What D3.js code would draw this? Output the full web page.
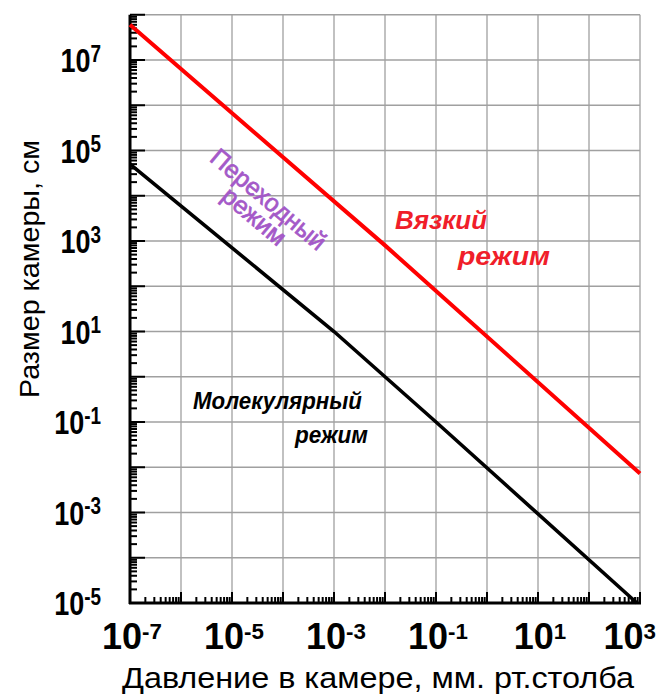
<!DOCTYPE html>
<html>
<head>
<meta charset="utf-8">
<script src="https://cdn.jsdelivr.net/npm/d3@7"></script>
<style>
  html, body { margin: 0; padding: 0; background: #fff; }
  svg { display: block; font-family: "Liberation Sans", Arial, sans-serif; }
</style>
</head>
<body>
<div id="chart"></div>
<script>
// pressure, mm Hg (x) and chamber size, cm (y)
var viscousP = [1e-7, 1e-2, 1e3];
var viscousL = [6e7, 8e2, 7.3e-3];
var molecularP = [1e-7, 1e-3, 1e-1, 8.7e2];
var molecularL = [5e4, 1e1, 1e-1, 1e-5];

var xTickExp = [-7, -5, -3, -1, 1, 3];
var yTickExp = [7, 5, 3, 1, -1, -3, -5];

var xTitle = "Давление в камере, мм. рт.столба";
var yTitle = "Размер камеры, см";

var width = 666, height = 695;
var pL = 130, pR = 640, pT = 14.75, pB = 603;

var svg = d3.select("#chart").append("svg")
  .attr("width", width)
  .attr("height", height);

var x = d3.scaleLog().domain([1e-7, 1e3]).range([pL, pR]);
var y = d3.scaleLog().domain([1e-5, 1e8]).range([pB, pT]);

// decade grid
var xDecades = d3.range(-7, 4).map(function (e) { return Math.pow(10, e); });
var yDecades = d3.range(-5, 9).map(function (e) { return Math.pow(10, e); });

svg.append("g").selectAll("line")
  .data(xDecades.slice(1))
  .enter().append("line")
  .attr("x1", function (d) { return x(d); })
  .attr("x2", function (d) { return x(d); })
  .attr("y1", pT).attr("y2", pB)
  .style("stroke", "#a0a0a0").style("stroke-width", 1.3);

svg.append("g").selectAll("line")
  .data(yDecades.slice(1))
  .enter().append("line")
  .attr("x1", pL).attr("x2", pR)
  .attr("y1", function (d) { return y(d); })
  .attr("y2", function (d) { return y(d); })
  .style("stroke", "#a0a0a0").style("stroke-width", 1.3);

// minor + major ticks, pointing inside
var xMinor = [], yMinor = [];
xDecades.forEach(function (d, i) {
  if (i < xDecades.length - 1) for (var k = 2; k <= 9; k++) xMinor.push(d * k);
});
yDecades.forEach(function (d, i) {
  if (i < yDecades.length - 1) for (var k = 2; k <= 9; k++) yMinor.push(d * k);
});

var ticks = svg.append("g").style("stroke", "#000").style("stroke-width", 2);
ticks.selectAll(".xmin").data(xMinor).enter().append("line")
  .attr("x1", function (d) { return x(d); }).attr("x2", function (d) { return x(d); })
  .attr("y1", pB).attr("y2", pB - 6);
ticks.selectAll(".xmaj").data(xDecades).enter().append("line")
  .attr("x1", function (d) { return x(d); }).attr("x2", function (d) { return x(d); })
  .attr("y1", pB).attr("y2", pB - 11);
ticks.selectAll(".ymin").data(yMinor).enter().append("line")
  .attr("x1", pL).attr("x2", pL + 7)
  .attr("y1", function (d) { return y(d); }).attr("y2", function (d) { return y(d); });
ticks.selectAll(".ymaj").data(yDecades).enter().append("line")
  .attr("x1", pL).attr("x2", pL + 15)
  .attr("y1", function (d) { return y(d); }).attr("y2", function (d) { return y(d); });

// axis lines
svg.append("line").attr("x1", pL).attr("x2", pL).attr("y1", pT).attr("y2", pB + 1)
  .style("stroke", "#000").style("stroke-width", 3);
svg.append("line").attr("x1", pL - 1).attr("x2", pR + 1).attr("y1", pB).attr("y2", pB)
  .style("stroke", "#000").style("stroke-width", 3);

// the two boundary lines
var line = d3.line()
  .x(function (d) { return x(d[0]); })
  .y(function (d) { return y(d[1]); });

svg.append("path")
  .datum(d3.zip(molecularP, molecularL))
  .attr("d", line)
  .style("fill", "none").style("stroke", "#000").style("stroke-width", 3.6);

svg.append("path")
  .datum(d3.zip(viscousP, viscousL))
  .attr("d", line)
  .style("fill", "none").style("stroke", "#ff0000").style("stroke-width", 4);

// tick labels 10^n
function powLabel(sel, e, sup) {
  sel.append("tspan").text("10");
  sel.append("tspan").attr("dy", "-0.45em").style("font-size", sup).text(e);
}

svg.append("g").selectAll("text")
  .data(xTickExp)
  .enter().append("text")
  .attr("x", function (e) { return x(Math.pow(10, e)) + 2; })
  .attr("y", 649)
  .attr("text-anchor", "middle")
  .style("font-size", "36px").style("font-weight", "bold")
  .each(function (e) {
    powLabel(d3.select(this), e, "62%");
    // keep the last label inside the picture
    var b = this.getBBox();
    if (b.x + b.width > width - 10) {
      d3.select(this).attr("x", +d3.select(this).attr("x") - (b.x + b.width - (width - 10)));
    }
  });

// y labels look taller than wide in the original
svg.append("g").selectAll("text")
  .data(yTickExp)
  .enter().append("text")
  .attr("transform", function (e) {
    return "translate(101," + (y(Math.pow(10, e)) + 12) + ") scale(1,1.22)";
  })
  .attr("text-anchor", "end")
  .style("font-size", "27px").style("font-weight", "bold")
  .each(function (e) { powLabel(d3.select(this), e, "70%"); });

// axis titles
svg.append("text")
  .attr("x", 378).attr("y", 688)
  .attr("text-anchor", "middle")
  .attr("textLength", 512).attr("lengthAdjust", "spacingAndGlyphs")
  .style("font-size", "29px")
  .text(xTitle);

svg.append("text")
  .attr("transform", "translate(39,269) rotate(-90)")
  .attr("text-anchor", "middle")
  .attr("textLength", 258).attr("lengthAdjust", "spacingAndGlyphs")
  .style("font-size", "28px")
  .text(yTitle);

// region labels
function label(txt, px, py, len, size, color) {
  return svg.append("text")
    .attr("x", px).attr("y", py)
    .attr("textLength", len).attr("lengthAdjust", "spacingAndGlyphs")
    .style("font-size", size).style("font-weight", "bold").style("font-style", "italic")
    .style("fill", color)
    .text(txt);
}
label("Вязкий", 395, 229, 92, "25px", "#f01e2a");
label("режим", 458, 265, 92, "26px", "#f01e2a");
label("Молекулярный", 193, 409, 169, "23px", "#000");
label("режим", 295, 443, 73, "23px", "#000");

var tr = svg.append("text")
  .attr("transform", "translate(263,206) rotate(40)")
  .attr("text-anchor", "middle")
  .style("font-size", "25px")
  .style("fill", "#a459c8")
  .style("stroke", "#a459c8").style("stroke-width", 0.7);
tr.append("tspan").attr("x", 0).attr("y", 0).attr("textLength", 142).attr("lengthAdjust", "spacingAndGlyphs").text("Переходный");
tr.append("tspan").attr("x", 0).attr("y", 22).text("режим");
</script>
</body>
</html>
